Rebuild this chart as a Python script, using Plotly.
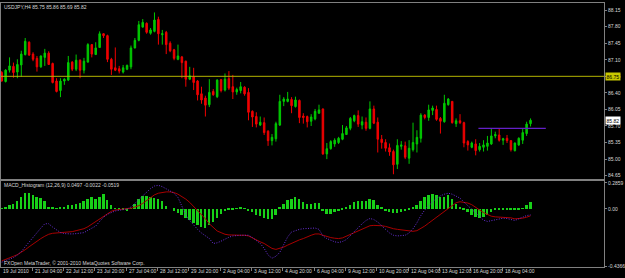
import plotly.graph_objects as go

W, H = 625, 278

bars = list(range(136))

opens = [86.83, 86.64, 86.88, 86.96, 86.84, 86.99, 87.21, 87.47, 87.22, 87.13,
         86.95, 87.15, 87.24, 87.02, 86.65, 86.45, 86.65, 86.67, 87.05, 86.90,
         87.09, 86.88, 87.05, 87.42, 87.21, 87.36, 87.65, 87.61, 87.11, 86.93,
         86.91, 86.84, 86.90, 86.95, 87.35, 87.51, 87.79, 87.87, 87.66, 87.70,
         87.95, 87.63, 87.68, 87.45, 87.31, 87.11, 87.16, 87.07, 86.69, 86.74,
         86.65, 86.38, 86.29, 86.15, 86.43, 86.32, 86.68, 86.46, 86.70, 86.53,
         86.42, 86.45, 86.52, 86.41, 86.01, 85.90, 85.72, 85.77, 85.59, 85.39,
         85.43, 85.72, 86.22, 86.22, 86.26, 86.11, 86.24, 85.91, 85.90, 85.80,
         85.85, 85.97, 86.06, 85.11, 85.22, 85.32, 85.35, 85.42, 85.52, 85.65,
         85.81, 85.92, 85.72, 85.78, 85.65, 86.06, 85.78, 85.42, 85.35, 85.24,
         85.16, 84.89, 85.27, 85.28, 85.02, 85.20, 85.32, 85.44, 85.93, 85.88,
         86.03, 86.05, 85.86, 85.79, 86.15, 86.22, 85.75, 85.81, 85.77, 85.37,
         85.25, 85.32, 85.20, 85.25, 85.27, 85.32, 85.49, 85.51, 85.40, 85.44,
         85.39, 85.18, 85.30, 85.40, 85.54, 85.75]

highs = [86.86, 86.90, 87.15, 87.04, 87.11, 87.29, 87.56, 87.49, 87.26, 87.18,
         87.19, 87.33, 87.28, 87.04, 86.71, 86.71, 86.71, 87.18, 87.07, 87.21,
         87.11, 87.14, 87.45, 87.43, 87.47, 87.70, 87.66, 87.63, 87.14, 87.36,
         86.97, 86.99, 87.00, 87.40, 87.56, 87.92, 87.96, 87.89, 87.77, 88.10,
         88.01, 87.73, 87.71, 87.49, 87.33, 87.42, 87.18, 87.08, 86.95, 86.93,
         86.67, 86.53, 86.34, 86.69, 86.48, 86.69, 86.69, 86.81, 86.86, 86.78,
         86.51, 86.63, 86.54, 86.50, 86.03, 85.99, 85.90, 85.88, 85.61, 85.53,
         85.79, 86.36, 86.31, 86.42, 86.31, 86.32, 86.26, 85.97, 85.92, 85.95,
         86.06, 86.15, 86.07, 85.34, 85.40, 85.44, 85.47, 85.72, 85.70, 85.89,
         85.94, 86.03, 85.90, 85.88, 86.22, 86.13, 85.88, 85.51, 85.42, 85.33,
         85.20, 85.42, 85.38, 85.37, 85.40, 85.77, 85.61, 85.97, 85.95, 86.15,
         86.13, 86.13, 85.89, 86.36, 86.29, 86.22, 85.86, 85.95, 85.79, 85.40,
         85.37, 85.42, 85.34, 85.40, 85.49, 85.65, 85.58, 85.65, 85.45, 85.51,
         85.40, 85.35, 85.46, 85.65, 85.79, 85.86]

lows = [86.64, 86.62, 86.83, 86.72, 86.71, 86.74, 87.19, 87.18, 87.07, 86.85,
        86.93, 86.97, 86.99, 86.60, 86.41, 86.31, 86.57, 86.65, 86.86, 86.86,
        86.71, 86.81, 87.04, 87.15, 87.20, 87.35, 87.56, 87.05, 86.78, 86.86,
        86.81, 86.81, 86.88, 86.90, 87.34, 87.49, 87.78, 87.65, 87.63, 87.68,
        87.42, 87.42, 87.22, 87.26, 87.09, 87.09, 86.71, 86.53, 86.67, 86.46,
        86.24, 86.17, 85.90, 86.10, 86.34, 86.29, 86.41, 86.43, 86.46, 86.27,
        86.36, 86.39, 86.34, 85.82, 85.68, 85.67, 85.70, 85.51, 85.28, 85.29,
        85.37, 85.70, 86.12, 86.20, 85.97, 86.09, 85.76, 85.75, 85.67, 85.70,
        85.82, 85.96, 85.09, 85.00, 85.20, 85.26, 85.32, 85.40, 85.51, 85.61,
        85.78, 85.68, 85.63, 85.60, 85.63, 85.74, 85.14, 85.22, 85.16, 85.07,
        84.68, 84.79, 85.20, 85.00, 84.90, 85.16, 85.14, 85.35, 85.84, 85.81,
        85.93, 85.81, 85.54, 85.77, 86.13, 85.75, 85.68, 85.74, 85.25, 85.18,
        85.23, 85.08, 85.16, 85.16, 85.18, 85.30, 85.44, 85.37, 85.30, 85.34,
        85.16, 85.16, 85.28, 85.32, 85.49, 85.69]

closes = [86.65, 86.88, 86.97, 86.83, 87.00, 87.22, 87.49, 87.20, 87.11, 86.95,
          87.18, 87.24, 87.00, 86.62, 86.43, 86.65, 86.69, 87.04, 86.90, 87.09,
          86.88, 87.07, 87.42, 87.22, 87.35, 87.65, 87.61, 87.11, 86.90, 86.88,
          86.86, 86.93, 86.98, 87.35, 87.51, 87.84, 87.89, 87.68, 87.73, 87.94,
          87.65, 87.65, 87.42, 87.29, 87.13, 87.18, 87.04, 86.69, 86.76, 86.62,
          86.36, 86.25, 86.14, 86.41, 86.36, 86.67, 86.45, 86.69, 86.50, 86.42,
          86.47, 86.53, 86.38, 85.99, 85.89, 85.74, 85.78, 85.56, 85.39, 85.46,
          85.75, 86.22, 86.27, 86.27, 86.13, 86.25, 85.88, 85.88, 85.79, 85.89,
          86.01, 86.04, 85.11, 85.22, 85.37, 85.40, 85.44, 85.54, 85.66, 85.86,
          85.92, 85.74, 85.79, 85.65, 86.06, 85.76, 85.42, 85.35, 85.23, 85.15,
          84.88, 85.29, 85.30, 85.04, 85.23, 85.35, 85.46, 85.93, 85.88, 86.04,
          86.08, 85.84, 85.80, 86.18, 86.27, 85.77, 85.81, 85.77, 85.34, 85.30,
          85.34, 85.18, 85.27, 85.30, 85.34, 85.49, 85.52, 85.40, 85.43, 85.39,
          85.20, 85.34, 85.44, 85.56, 85.74, 85.82]

hist = [0.003, 0.0125, 0.025, 0.0375, 0.055, 0.0875, 0.1175, 0.1175, 0.10, 0.0875,
        0.08, 0.055, 0.005, 0.005, 0.002, 0.005, 0.0125, 0.025, 0.03, 0.0375,
        0.045, 0.055, 0.075, 0.0875, 0.07, 0.0875, 0.1125, 0.0625, 0.025, 0.002,
        -0.005, -0.005, -0.015, 0.002, 0.0375, 0.07, 0.0925, 0.0925, 0.0875, 0.08,
        0.07, 0.055, 0.02, 0.0, -0.015, -0.03, -0.05, -0.07, -0.0875, -0.1125,
        -0.125, -0.1375, -0.145, -0.125, -0.10, -0.07, -0.0375, -0.02, -0.0125, -0.0075,
        -0.002, 0.005, 0.002, -0.02, -0.025, -0.045, -0.055, -0.07, -0.08, -0.08,
        -0.05, 0.005, 0.0375, 0.0625, 0.075, 0.0875, 0.07, 0.05, 0.0375, 0.0375,
        0.045, 0.045, -0.02, -0.0375, -0.0375, -0.025, -0.02, -0.0125, 0.005, 0.025,
        0.05, 0.055, 0.055, 0.055, 0.07, 0.0625, 0.025, 0.005, -0.02, -0.025,
        -0.03, -0.03, -0.025, -0.02, -0.005, 0.005, 0.025, 0.055, 0.0875, 0.105,
        0.1125, 0.10, 0.0875, 0.0875, 0.105, 0.075, 0.0375, 0.0125, -0.0125, -0.025,
        -0.045, -0.0625, -0.07, -0.0625, -0.045, -0.025, -0.0125, -0.0075, -0.0075, -0.005,
        -0.0075, -0.005, -0.005, 0.002, 0.025, 0.0497]

signal = [-0.395, -0.385, -0.375, -0.36, -0.3475, -0.33, -0.31, -0.2875, -0.265, -0.245,
          -0.225, -0.2075, -0.1925, -0.185, -0.1825, -0.1825, -0.18, -0.1775, -0.1725, -0.165,
          -0.1575, -0.15, -0.135, -0.115, -0.095, -0.075, -0.0525, -0.0325, -0.0175, -0.0075,
          -0.0025, 0.0, 0.0025, 0.005, 0.0125, 0.025, 0.0425, 0.065, 0.0875, 0.1075,
          0.12, 0.1275, 0.13, 0.13, 0.125, 0.1125, 0.095, 0.075, 0.05, 0.02,
          -0.0125, -0.045, -0.075, -0.1125, -0.14, -0.1675, -0.18, -0.1925, -0.1975, -0.2,
          -0.2, -0.2, -0.2, -0.205, -0.22, -0.2375, -0.25, -0.2625, -0.2825, -0.30,
          -0.3075, -0.30, -0.29, -0.275, -0.26, -0.2475, -0.235, -0.225, -0.21, -0.20,
          -0.19, -0.19, -0.20, -0.21, -0.2175, -0.2225, -0.225, -0.22, -0.2075, -0.195,
          -0.18, -0.165, -0.1525, -0.14, -0.1275, -0.125, -0.125, -0.1275, -0.1325, -0.1425,
          -0.15, -0.155, -0.16, -0.165, -0.17, -0.17, -0.165, -0.15, -0.13, -0.1075,
          -0.085, -0.06, -0.0375, -0.0175, 0.005, 0.0275, 0.0475, 0.055, 0.0525, 0.045,
          0.0325, 0.015, -0.0075, -0.0275, -0.0425, -0.055, -0.06, -0.0625, -0.0625, -0.0625,
          -0.0675, -0.075, -0.075, -0.07, -0.0625, -0.0519]

macd = [-0.405, -0.395, -0.385, -0.37, -0.35, -0.325, -0.2875, -0.25, -0.215, -0.18,
        -0.145, -0.1125, -0.1125, -0.1375, -0.1625, -0.18, -0.1875, -0.19, -0.19, -0.1875,
        -0.185, -0.18, -0.1625, -0.145, -0.13, -0.095, -0.0625, -0.04, -0.025, -0.015,
        -0.01, -0.005, 0.0, 0.015, 0.04, 0.07, 0.10, 0.13, 0.155, 0.175,
        0.18, 0.17, 0.155, 0.1375, 0.12, 0.0875, 0.025, -0.045, -0.0875, -0.125,
        -0.155, -0.1825, -0.205, -0.225, -0.2625, -0.2575, -0.245, -0.2275, -0.215, -0.205,
        -0.20, -0.20, -0.20, -0.20, -0.2175, -0.24, -0.2625, -0.30, -0.35, -0.375,
        -0.36, -0.33, -0.275, -0.2125, -0.175, -0.1625, -0.155, -0.15, -0.15, -0.15,
        -0.145, -0.155, -0.205, -0.225, -0.24, -0.25, -0.255, -0.2475, -0.2325, -0.205,
        -0.175, -0.1425, -0.1125, -0.0875, -0.0725, -0.08, -0.10, -0.13, -0.155, -0.1825,
        -0.20, -0.205, -0.2025, -0.20, -0.1825, -0.15, -0.105, -0.05, -0.0075, 0.025,
        0.055, 0.08, 0.10, 0.1125, 0.12, 0.1125, 0.0975, 0.0825, 0.0525, 0.025,
        -0.005, -0.03, -0.06, -0.085, -0.095, -0.09, -0.0825, -0.075, -0.07, -0.0725,
        -0.08, -0.0875, -0.075, -0.06, -0.05, -0.045]

price_ticks = [84.65, 85.00, 85.35, 85.70, 86.05, 86.40, 86.75, 87.10, 87.45, 87.80, 88.15]
macd_tick_text = ["0.2859", "0.00", "-0.4366"]
time_label_bars = [0, 8, 16, 24, 32, 40, 48, 56, 64, 72, 80, 88, 96, 104, 112, 120, 128]
time_labels = ["19 Jul 2010", "21 Jul 04:00", "22 Jul 12:00", "23 Jul 20:00", "27 Jul 04:00",
               "28 Jul 12:00", "29 Jul 20:00", "2 Aug 04:00", "3 Aug 12:00", "4 Aug 20:00",
               "6 Aug 04:00", "9 Aug 12:00", "10 Aug 20:00", "12 Aug 04:00", "13 Aug 12:00",
               "16 Aug 20:00", "18 Aug 04:00"]
yellow_level = 86.75
purple_level = 85.65
purple_span = [121.7, 138.9]
title_main = "USDJPY,H4 85.75 85.86 85.69 85.82"
title_macd = "MACD_Histogram (12,26,9) 0.0497 -0.0022 -0.0519"
footer = "FXOpen MetaTrader, © 2001-2010 MetaQuotes Software Corp."

UP = "#00c800"
DN = "#f00000"
HISTC = "#18d018"
FRAME = "#808080"
TXT = "#d8d8d8"
FONT = "Liberation Sans, Arial, sans-serif"
FS = 5

def px_x(p):
    return p / W

def px_y(p):
    return 1 - p / H

x_domain = [px_x(1), px_x(606)]
x_range = [-0.18, 153.77]

fig = go.Figure()
fig.add_trace(go.Candlestick(
    x=bars, open=opens, high=highs, low=lows, close=closes,
    increasing=dict(line=dict(color=UP, width=1), fillcolor=UP),
    decreasing=dict(line=dict(color=DN, width=1), fillcolor=DN),
    whiskerwidth=0, xaxis="x", yaxis="y", hoverinfo="skip"))
fig.add_trace(go.Scatter(x=purple_span, y=[purple_level, purple_level], mode="lines",
                         line=dict(color="#6420c8", width=1.3), xaxis="x", yaxis="y"))
fig.add_trace(go.Bar(x=bars, y=hist, width=0.5, marker=dict(color=HISTC, line=dict(width=0)),
                     xaxis="x2", yaxis="y2"))
fig.add_trace(go.Scatter(x=bars, y=signal, mode="lines", line=dict(color="#a80000", width=1),
                         xaxis="x2", yaxis="y2"))
fig.add_trace(go.Scatter(x=bars, y=macd, mode="lines",
                         line=dict(color="#6a30d8", width=1, dash="1px,1.5px"),
                         xaxis="x2", yaxis="y2"))

axis_common = dict(showgrid=False, zeroline=False, showline=True, mirror=True,
                   linecolor=FRAME, linewidth=1)

annotations = []
for b, t in zip(time_label_bars, time_labels):
    annotations.append(dict(x=b, y=px_y(273.3), xref="x2", yref="paper", text=t,
                            showarrow=False, xanchor="left", yanchor="middle",
                            xshift=0.5, borderpad=0, font=dict(family=FONT, size=FS, color=TXT)))
annotations.append(dict(x=px_x(3.3), y=px_y(4.8), xref="paper", yref="paper", text=title_main,
                        showarrow=False, xanchor="left", yanchor="middle", borderpad=0,
                        font=dict(family=FONT, size=FS, color=TXT)))
annotations.append(dict(x=px_x(2.7), y=px_y(185.3), xref="paper", yref="paper", text=title_macd,
                        showarrow=False, xanchor="left", yanchor="middle", borderpad=0,
                        font=dict(family=FONT, size=FS, color=TXT)))
annotations.append(dict(x=px_x(2.7), y=px_y(265.3), xref="paper", yref="paper", text=footer,
                        showarrow=False, xanchor="left", yanchor="middle", borderpad=0,
                        font=dict(family=FONT, size=FS, color=TXT)))
annotations.append(dict(x=px_x(607), y=yellow_level, xref="paper", yref="y",
                        text="%.2f" % yellow_level, showarrow=False, xanchor="left",
                        yanchor="middle", bgcolor="#c8c800", borderpad=0.6,
                        font=dict(family=FONT, size=FS, color="#000000")))
annotations.append(dict(x=px_x(607), y=closes[-1], xref="paper", yref="y",
                        text="%.2f" % closes[-1], showarrow=False, xanchor="left",
                        yanchor="middle", bgcolor="#ffffff", borderpad=0.6,
                        font=dict(family=FONT, size=FS, color="#000000")))

fig.update_layout(
    width=W, height=H, margin=dict(l=0, r=0, t=0, b=0),
    paper_bgcolor="#000000", plot_bgcolor="#000000", showlegend=False,
    boxgap=0.45, bargap=0,
    xaxis=dict(domain=x_domain, range=x_range, anchor="y", showticklabels=False, ticks="",
               rangeslider=dict(visible=False), **axis_common),
    yaxis=dict(domain=[px_y(180), px_y(1.5)], range=[84.5708, 88.2896], side="right",
               anchor="x", tickvals=price_ticks, ticktext=["%.2f" % v for v in price_ticks],
               ticks="outside", ticklen=2, tickcolor=FRAME,
               tickfont=dict(family=FONT, size=FS, color=TXT), **axis_common),
    xaxis2=dict(domain=x_domain, range=x_range, anchor="y2", showticklabels=False,
                ticks="outside", ticklen=3, tickcolor=FRAME,
                tickvals=[b - 0.25 for b in time_label_bars[1:]], **axis_common),
    yaxis2=dict(domain=[px_y(269), px_y(182)], range=[-0.4425, 0.21], side="right",
                anchor="x2", tickvals=[0.199, 0.0, -0.435], ticktext=macd_tick_text,
                ticks="outside", ticklen=2, tickcolor=FRAME,
                tickfont=dict(family=FONT, size=FS, color=TXT), **axis_common),
    shapes=[dict(type="line", xref="x domain", yref="y", x0=0, x1=1,
                 y0=yellow_level, y1=yellow_level, line=dict(color="#b4b400", width=1))],
    annotations=annotations,
)

fig.write_html("out.html")
